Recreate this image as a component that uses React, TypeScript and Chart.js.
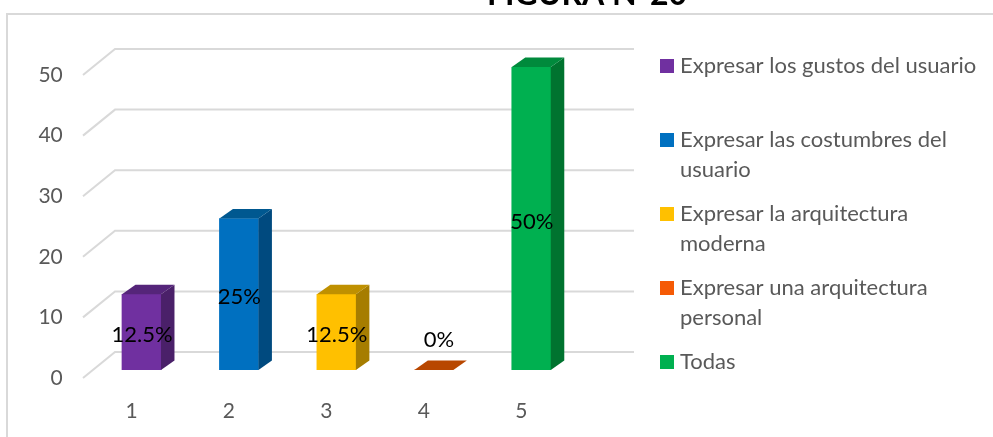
import React, { useEffect, useRef } from "react";
import { Chart, registerables } from "chart.js";

Chart.register(...registerables);

const categories = ["1", "2", "3", "4", "5"];
const values = [12.5, 25, 12.5, 0, 50];
const valueLabels = ["12.5%", "25%", "12.5%", "0%", "50%"];
const legendLabels = [
  ["Expresar los gustos del usuario"],
  ["Expresar las costumbres del", "usuario"],
  ["Expresar la arquitectura", "moderna"],
  ["Expresar una arquitectura", "personal"],
  ["Todas"],
];
const frontColors = ["#7030A0", "#0070C0", "#FFC000", "#F55A05", "#00B050"];
const sideColors = ["#4A2069", "#004A7F", "#A67D00", "#A33C00", "#00732F"];
const topColors = ["#55257A", "#005890", "#BF9000", "#B84700", "#008A3C"];
const titleText = "FIGURA N°20";

const FONT = 'Lato, "Open Sans", sans-serif';
const GRID = "#D9D9D9";
const TEXT = "#595959";
const DX = 13.5;
const DY = 9.5;

const scene = {
  id: "scene",
  beforeDraw(chart: any) {
    const { ctx } = chart;
    ctx.save();
    ctx.fillStyle = "#fff";
    ctx.fillRect(0, 0, chart.width, chart.height);
    ctx.strokeStyle = GRID;
    ctx.lineWidth = 2;
    ctx.beginPath();
    ctx.moveTo(7, 437);
    ctx.lineTo(7, 14);
    ctx.lineTo(993, 14);
    ctx.stroke();
    ctx.fillStyle = "#000";
    ctx.font = `bold 32px ${FONT}`;
    ctx.textAlign = "center";
    ctx.textBaseline = "alphabetic";
    ctx.fillText(titleText, 587, 5);
    ctx.restore();
  },
  beforeDatasetsDraw(chart: any) {
    const { ctx, scales } = chart;
    ctx.save();
    ctx.strokeStyle = GRID;
    ctx.lineWidth = 2;
    for (const tick of scales.y.ticks) {
      const y = scales.y.getPixelForValue(tick.value);
      ctx.beginPath();
      ctx.moveTo(83, y + 8);
      ctx.lineTo(115, y - 18);
      ctx.lineTo(634, y - 18);
      ctx.stroke();
    }
    ctx.restore();
  },
  afterDatasetsDraw(chart: any) {
    const { ctx } = chart;
    const meta = chart.getDatasetMeta(0);
    ctx.save();
    meta.data.forEach((bar: any, i: number) => {
      const half = bar.width / 2;
      const l = bar.x - half;
      const r = bar.x + half;
      const t = bar.y;
      const b = bar.base;
      if (b - t > 0.5) {
        ctx.fillStyle = sideColors[i];
        ctx.beginPath();
        ctx.moveTo(r, t);
        ctx.lineTo(r + DX, t - DY);
        ctx.lineTo(r + DX, b - DY);
        ctx.lineTo(r, b);
        ctx.closePath();
        ctx.fill();
      }
      ctx.fillStyle = topColors[i];
      ctx.beginPath();
      ctx.moveTo(l, t);
      ctx.lineTo(l + DX, t - DY);
      ctx.lineTo(r + DX, t - DY);
      ctx.lineTo(r, t);
      ctx.closePath();
      ctx.fill();
    });
    ctx.fillStyle = "#000";
    ctx.font = `22px ${FONT}`;
    ctx.textAlign = "center";
    ctx.textBaseline = "middle";
    meta.data.forEach((bar: any, i: number) => {
      const isZero = values[i] === 0;
      const y = isZero ? bar.base - 30 : (bar.y + bar.base) / 2 + 3;
      ctx.fillText(valueLabels[i], bar.x + (isZero ? 5 : 0.5), y);
    });
    ctx.restore();
  },
  afterDraw(chart: any) {
    const { ctx } = chart;
    ctx.save();
    ctx.font = `22px ${FONT}`;
    ctx.textAlign = "left";
    ctx.textBaseline = "middle";
    legendLabels.forEach((lines, i) => {
      const y = 66 + i * 74;
      ctx.fillStyle = frontColors[i];
      ctx.fillRect(660, y - 7, 14, 14);
      ctx.fillStyle = TEXT;
      lines.forEach((line, j) => ctx.fillText(line, 680, y + j * 30));
    });
    ctx.restore();
  },
};

export default function App() {
  const ref = useRef<HTMLCanvasElement>(null);
  useEffect(() => {
    const chart = new Chart(ref.current!, {
      type: "bar",
      data: {
        labels: categories,
        datasets: [
          {
            data: values,
            backgroundColor: frontColors,
            barThickness: 39,
          },
        ],
      },
      options: {
        responsive: false,
        animation: false,
        layout: { padding: { top: 67, right: 413, bottom: 0, left: 0 } },
        plugins: {
          legend: { display: false },
          title: { display: false },
          tooltip: { enabled: false },
        },
        scales: {
          x: {
            afterFit: (s: any) => {
              s.height = 67;
            },
            grid: { display: false, drawTicks: false },
            border: { display: false },
            ticks: {
              color: TEXT,
              font: { family: FONT, size: 21 },
              padding: 29,
              labelOffset: -10,
              maxRotation: 0,
            },
          },
          y: {
            min: 0,
            max: 50,
            afterFit: (s: any) => {
              s.width = 92.75;
            },
            grid: { display: false, drawTicks: false },
            border: { display: false },
            ticks: {
              stepSize: 10,
              color: TEXT,
              font: { family: FONT, size: 21 },
              padding: 30,
              labelOffset: 8,
            },
          },
        },
      },
      plugins: [scene],
    } as any);
    return () => chart.destroy();
  }, []);
  return (
    <canvas
      ref={ref}
      width={993}
      height={437}
      style={{ position: "absolute", left: 0, top: 0, display: "block" }}
    />
  );
}
